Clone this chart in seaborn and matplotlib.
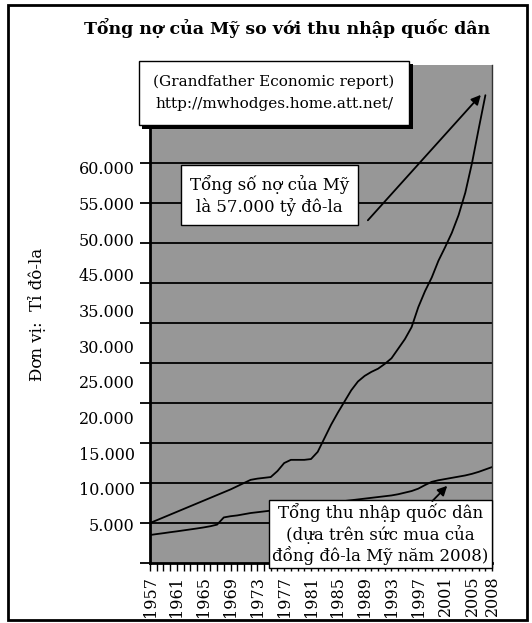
import numpy as np
import pandas as pd
import matplotlib
matplotlib.use('Agg')
import matplotlib.pyplot as plt
import matplotlib.patheffects as pe
from matplotlib.patches import Rectangle
import seaborn as sns

# values (ty do-la)
years = list(range(1957, 2009))
debt = [5000, 5350, 5700, 6050, 6400, 6750, 7100, 7450, 7800, 8150,
        8500, 8850, 9200, 9600, 10000, 10400, 10550, 10650, 10750, 11500,
        12500, 12900, 12900, 12900, 13000, 13900, 15600, 17300, 18800, 20200,
        21600, 22700, 23400, 23900, 24300, 24900, 25600, 26800, 28000, 29500,
        32000, 34000, 35700, 37800, 39500, 41300, 43500, 46300, 50000, 54300,
        58500]
income = [3500, 3620, 3730, 3850, 3960, 4080, 4200, 4320, 4450, 4600,
          4800, 5700, 5850, 5950, 6100, 6250, 6350, 6450, 6550, 6650,
          6750, 6850, 6950, 7050, 7150, 7250, 7400, 7550, 7650, 7750,
          7850, 7950, 8050, 8150, 8250, 8350, 8450, 8600, 8800, 9000,
          9300, 9750, 10150, 10350, 10500, 10650, 10800, 10950, 11150, 11400,
          11700, 12000]

year_ticks = [1957, 1961, 1965, 1969, 1973, 1977, 1981, 1985, 1989, 1993,
              1997, 2001, 2005, 2008]
y_labels = ['60.000', '55.000', '50.000', '45.000', '35.000', '30.000',
            '25.000', '20.000', '15.000', '10.000', '5.000']

df_debt = pd.DataFrame({'year': years[:len(debt)], 'value': debt})
df_inc = pd.DataFrame({'year': years, 'value': income})

sns.set_theme(style='white')
plt.rcParams['font.family'] = ['DejaVu Serif']
plt.rcParams['text.color'] = 'black'
plt.rcParams['axes.labelcolor'] = 'black'
plt.rcParams['xtick.color'] = 'black'
plt.rcParams['ytick.color'] = 'black'

fig = plt.figure(figsize=(5.32, 6.23), dpi=100)
ax = fig.add_axes([0.282, 0.0963, 0.643, 0.799])
ax.set_facecolor('#979797')

sns.lineplot(data=df_debt, x='year', y='value', color='black', lw=1.3, ax=ax)
sns.lineplot(data=df_inc, x='year', y='value', color='black', lw=1.3, ax=ax)

ax.set_xlim(1957, 2008)
ax.set_ylim(0, 62250)

# grid lines every 5000
ax.set_yticks(np.arange(0, 50001, 5000))
ax.set_yticklabels([])
for v in np.arange(5000, 50001, 5000):
    ax.axhline(v, color='black', lw=1.3, zorder=1)
ax.set_yticks(np.linspace(4800, 49400, len(y_labels))[::-1], minor=True)
ax.set_yticklabels(y_labels, minor=True, fontsize=11.5)
ax.tick_params(axis='y', which='major', direction='out', length=7, width=1.3,
               left=True)
ax.tick_params(axis='y', which='minor', length=0, pad=11, left=True)

ax.set_xticks(year_ticks)
ax.set_xticklabels([str(y) for y in year_ticks], rotation=90, fontsize=11.5)
ax.set_xticks(years, minor=True)
ax.tick_params(axis='x', which='both', direction='out', length=6, width=1,
               bottom=True, pad=3)

for s in ['left', 'bottom']:
    ax.spines[s].set_color('black')
    ax.spines[s].set_linewidth(2)
ax.spines['top'].set_visible(False)
ax.spines['right'].set_color('#333333')
ax.spines['right'].set_linewidth(1)

ax.set_xlabel('')
ax.set_ylabel('Đơn vị:  Tỉ đô-la', fontsize=12)
ax.yaxis.set_label_coords(-0.304, 0.5)

fig.text(0.54, 0.955, 'Tổng nợ của Mỹ so với thu nhập quốc dân',
         ha='center', va='center', fontsize=12.5, fontweight='bold')

shadow = [pe.withSimplePatchShadow(offset=(2.5, -2.5), shadow_rgbFace='black', alpha=1)]

t1 = fig.text(0.515, 0.851, '(Grandfather Economic report)\nhttp://mwhodges.home.att.net/',
              ha='center', va='center', fontsize=11, linespacing=1.65,
              bbox=dict(boxstyle='square,pad=0.95', fc='white', ec='black', lw=1))
t1.get_bbox_patch().set_path_effects(shadow)

t2 = ax.text(1974.8, 46000, 'Tổng số nợ của Mỹ\nlà 57.000 tỷ đô-la',
             ha='center', va='center', fontsize=12, linespacing=1.3,
             bbox=dict(boxstyle='square,pad=0.55', fc='white', ec='black', lw=1))
ax.annotate('', xy=(years[len(debt) - 1] - 0.4, debt[-1] + 300), xytext=(1989.2, 42600),
            arrowprops=dict(arrowstyle='-|>', color='black', lw=1.3, mutation_scale=14))

t3 = ax.text(1991.3, 3600, 'Tổng thu nhập quốc dân\n(dựa trên sức mua của\nđồng đô-la Mỹ năm 2008)',
             ha='center', va='center', fontsize=12, linespacing=1.15,
             bbox=dict(boxstyle='square,pad=0.2', fc='white', ec='black', lw=1))
ax.annotate('', xy=(2001.6, 9900), xytext=(1998.8, 7500),
            arrowprops=dict(arrowstyle='-|>', color='black', lw=1.3, mutation_scale=14))

fig.patches.append(Rectangle((0.015, 0.005), 0.975, 0.987, transform=fig.transFigure,
                             fill=False, ec='black', lw=2))

fig.savefig('out.png', dpi=100)
